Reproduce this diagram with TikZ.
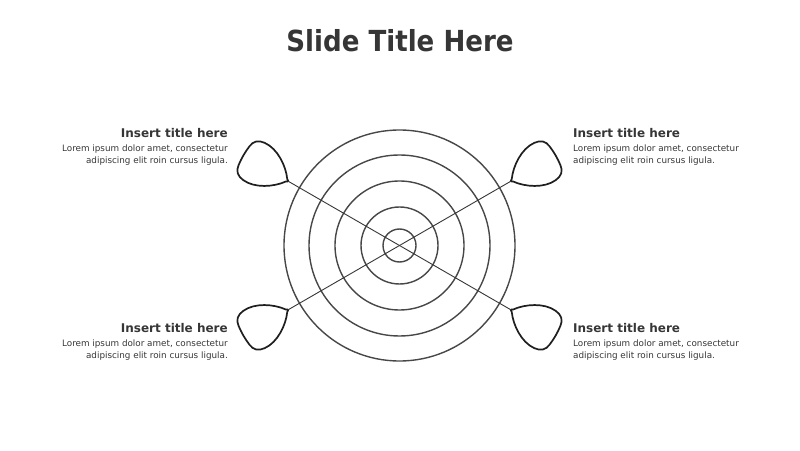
\documentclass[tikz,border=0pt]{standalone}
\usepackage{fontspec}
\setmainfont{DejaVu Sans}
\newfontfamily\titlefont[FakeStretch=0.9]{DejaVu Sans}
\usetikzlibrary{positioning, calc}
\definecolor{ink}{HTML}{363636}
\definecolor{ring}{HTML}{474747}

\begin{document}
\begin{tikzpicture}[x=1pt, y=1pt,
    ringline/.style={draw=ring, line width=1.4pt},
    spoke/.style={draw=ink, line width=0.9pt},
    heading/.style={font=\bfseries\fontsize{12}{14}\selectfont, text=ink, inner sep=0pt},
    body/.style={font=\fontsize{8.8}{12.5}\selectfont, text=ink, inner sep=0pt},
    dartpick/.pic={
        \draw[line width=1.7pt, draw=black!88, fill=white, line join=round]
            (2.5,-1.5) .. controls (10,-12) and (26,-23) .. (40,-21.5)
            .. controls (47,-21) and (51,-17) .. (51.5,-11)
            .. controls (52.5,-4) and (52.5,4) .. (51.5,11)
            .. controls (51,17) and (47,21) .. (40,21.5)
            .. controls (26,23) and (10,12) .. (2.5,1.5)
            .. controls (0,0) .. (2.5,-1.5) -- cycle;
    }]
    \useasboundingbox (0,0) rectangle (800,450);
    \node[font=\titlefont\bfseries\fontsize{29}{34}\selectfont, text=ink, anchor=base] (slide) at (400,398) {Slide Title Here};

    \coordinate (c) at (399.5,204.5);
    \foreach \r in {16.5,38.5,64.5,90.5,115.5}
        \draw[ringline] (c) circle (\r);

    \coordinate (tipnw) at ($(c)+(150:128)$);
    \coordinate (tipne) at ($(c)+(30:128)$);
    \coordinate (tipsw) at ($(c)+(210:128)$);
    \coordinate (tipse) at ($(c)+(330:128)$);
    \draw[spoke] (tipnw) -- (tipse);
    \draw[spoke] (tipsw) -- (tipne);
    \pic[rotate=150] (picknw) at (tipnw) {dartpick};
    \pic[rotate=30] (pickne) at (tipne) {dartpick};
    \pic[rotate=210] (picksw) at (tipsw) {dartpick};
    \pic[rotate=330] (pickse) at (tipse) {dartpick};

    \node[heading, anchor=base east] (hnw) at (228,312.5) {Insert title here};
    \node[body, below=7pt of hnw.base east, anchor=north east, align=right] (tnw) {Lorem ipsum dolor amet, consectetur\\adipiscing elit roin cursus ligula.};
    \node[heading, anchor=base west] (hne) at (573,312.5) {Insert title here};
    \node[body, below=7pt of hne.base west, anchor=north west, align=left] (tne) {Lorem ipsum dolor amet, consectetur\\adipiscing elit roin cursus ligula.};
    \node[heading, anchor=base east] (hsw) at (228,117.5) {Insert title here};
    \node[body, below=7pt of hsw.base east, anchor=north east, align=right] (tsw) {Lorem ipsum dolor amet, consectetur\\adipiscing elit roin cursus ligula.};
    \node[heading, anchor=base west] (hse) at (573,117.5) {Insert title here};
    \node[body, below=7pt of hse.base west, anchor=north west, align=left] (tse) {Lorem ipsum dolor amet, consectetur\\adipiscing elit roin cursus ligula.};
\end{tikzpicture}
\end{document}
